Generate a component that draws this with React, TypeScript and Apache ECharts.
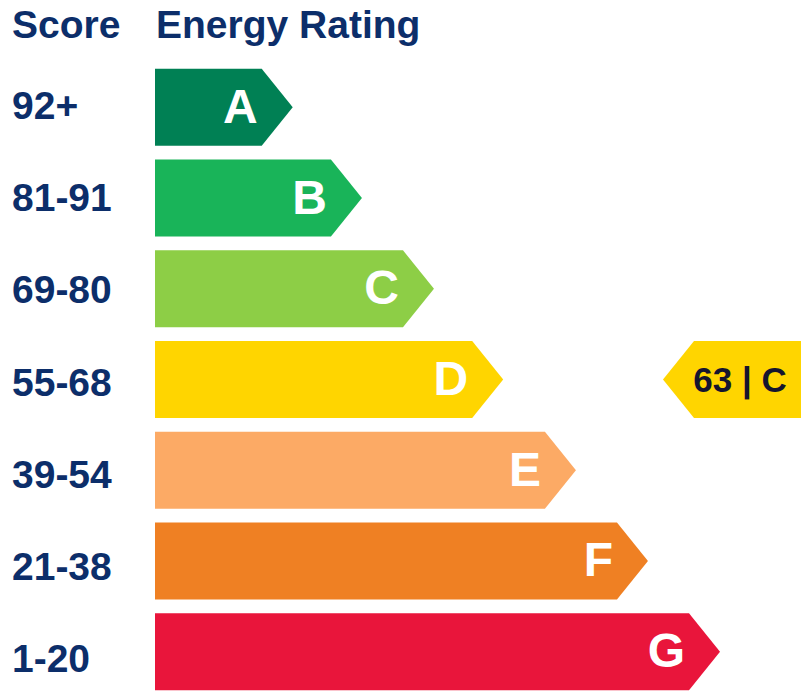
import React, { useEffect, useRef } from "react";
import * as echarts from "echarts";

const ratings = ["A", "B", "C", "D", "E", "F", "G"];
const scoreRanges = ["92+", "81-91", "69-80", "55-68", "39-54", "21-38", "1-20"];
const scoreMins = [92, 81, 69, 55, 39, 21, 1];
const barLengths = [1.95, 2.93, 3.95, 4.93, 5.96, 6.98, 8.0];
const bandColors = ["#008054", "#19b459", "#8dce46", "#ffd500", "#fcaa65", "#ef8023", "#e9153b"];
const currentScore = 63;
const currentRating = "C";

const NAVY = "#0c2e6a";
const FONT = "'Liberation Sans', Arial, sans-serif";

export default function App() {
  const ref = useRef<HTMLDivElement>(null);
  useEffect(() => {
    if (!ref.current) return;
    const chart = echarts.init(ref.current, null, { renderer: "svg" });
    const currentRow = scoreMins.findIndex((m) => currentScore >= m);
    const option: any = {
      animation: false,
      backgroundColor: "#ffffff",
      grid: [
        { left: 155, width: 565, top: 62, height: 635, containLabel: false, outerBoundsMode: "none" },
        { left: 155, width: 565, top: 59, height: 646, containLabel: false, outerBoundsMode: "none" },
      ],
      xAxis: [
        { type: "value", min: 0, max: 8, show: false, gridIndex: 0 },
        { type: "value", min: 0, max: 8, show: false, gridIndex: 1 },
      ],
      yAxis: [
        {
          type: "category",
          inverse: true,
          gridIndex: 0,
          data: ratings,
          axisLine: { show: false },
          axisTick: { show: false },
          splitLine: { show: false },
          axisLabel: { show: false },
        },
        {
          type: "category",
          inverse: true,
          gridIndex: 1,
          data: scoreRanges,
          axisLine: { show: false },
          axisTick: { show: false },
          splitLine: { show: false },
          axisLabel: {
            align: "left",
            margin: 143,
            color: NAVY,
            fontSize: 39,
            fontWeight: "bold",
            fontFamily: FONT,
          },
        },
      ],
      graphic: [
        {
          type: "text",
          left: 12,
          top: 5,
          style: { text: "Score", fill: NAVY, font: `bold 39px ${FONT}` },
        },
        {
          type: "text",
          left: 156,
          top: 5,
          style: { text: "Energy Rating", fill: NAVY, font: `bold 39px ${FONT}` },
        },
      ],
      series: [
        {
          type: "custom",
          xAxisIndex: 0,
          yAxisIndex: 0,
          data: ratings.map((r, i) => [i, barLengths[i]]),
          renderItem: (params: any, api: any) => {
            const idx = api.value(0);
            const len = api.value(1);
            const p0 = api.coord([0, idx]);
            const p1 = api.coord([len, idx]);
            const h = 77;
            const tip = 31;
            const y = p0[1];
            const x0 = p0[0];
            const x1 = p1[0];
            return {
              type: "group",
              children: [
                {
                  type: "polygon",
                  shape: {
                    points: [
                      [x0, y - h / 2],
                      [x1 - tip, y - h / 2],
                      [x1, y],
                      [x1 - tip, y + h / 2],
                      [x0, y + h / 2],
                    ],
                  },
                  style: { fill: bandColors[idx] },
                },
                {
                  type: "text",
                  x: x1 - tip - 4,
                  y: y - 1,
                  style: {
                    text: ratings[idx],
                    fill: "#ffffff",
                    font: `bold 48px ${FONT}`,
                    align: "right",
                    verticalAlign: "middle",
                  },
                },
              ],
            };
          },
        },
        {
          type: "custom",
          xAxisIndex: 0,
          yAxisIndex: 0,
          data: [[currentRow, currentScore]],
          renderItem: (params: any, api: any) => {
            const idx = api.value(0);
            const p = api.coord([0, idx]);
            const y = p[1];
            const right = api.getWidth() - 7;
            const left = right - 138;
            const tip = 31;
            const h = 77;
            return {
              type: "group",
              children: [
                {
                  type: "polygon",
                  shape: {
                    points: [
                      [left, y],
                      [left + tip, y - h / 2],
                      [right, y - h / 2],
                      [right, y + h / 2],
                      [left + tip, y + h / 2],
                    ],
                  },
                  style: { fill: bandColors[idx] },
                },
                {
                  type: "text",
                  x: 740,
                  y: y,
                  style: {
                    text: `${currentScore} | ${currentRating}`,
                    fill: "#15152e",
                    font: `bold 35px ${FONT}`,
                    align: "center",
                    verticalAlign: "middle",
                  },
                },
              ],
            };
          },
        },
      ],
    };
    chart.setOption(option);
    return () => chart.dispose();
  }, []);
  return (
    <div
      ref={ref}
      style={{ position: "fixed", left: 0, top: 0, width: 808, height: 691 }}
    />
  );
}
